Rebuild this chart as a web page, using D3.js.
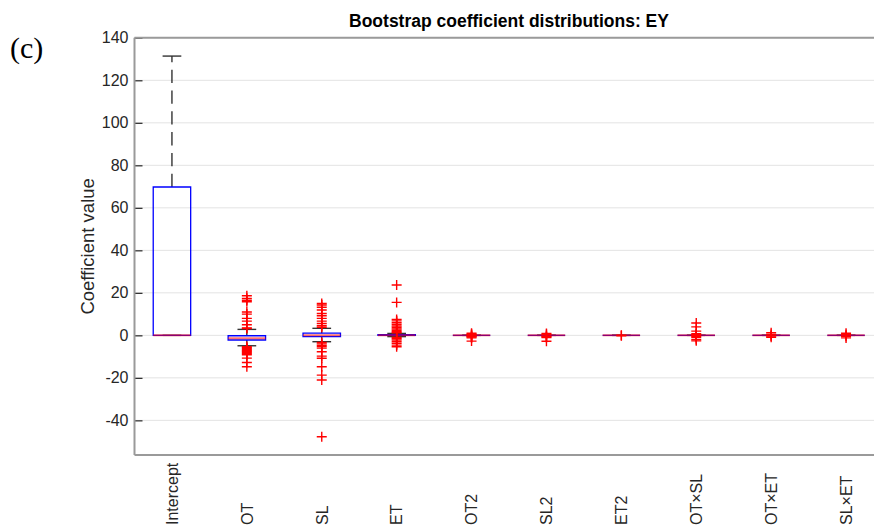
<!DOCTYPE html>
<html>
<head>
<meta charset="utf-8">
<script src="https://cdn.jsdelivr.net/npm/d3@7"></script>
<style>
  html, body { margin: 0; padding: 0; background: #fff; }
  svg { display: block; }
  text { font-family: Arial, "Liberation Sans", sans-serif; }
</style>
</head>
<body>
<svg id="chart" width="874" height="526"></svg>
<script>
// Bootstrap coefficient distributions for the EY model terms
const categories = ["Intercept", "OT", "SL", "ET", "OT2", "SL2", "ET2", "OT×SL", "OT×ET", "SL×ET"];
const q1          = [0,     -2.2, -0.6, 0.0, 0, 0, 0, 0, 0, 0];
const medians     = [0,     -1.4,  0.1, 0.1, 0, 0, 0, 0, 0, 0];
const q3          = [69.8,  -0.2,  1.0, 0.3, 0, 0, 0, 0, 0, 0];
const whiskerLow  = [0,     -4.9, -3.0, -0.6, 0, 0, 0, 0, 0, 0];
const whiskerHigh = [131.4,  2.8,  3.3, 0.9, 0, 0, 0, 0, 0, 0];
const outliers = [
  [],
  [18.6, 17.4, 16.5, 15.8, 11.0, 10.0, 8.0, 6.7, 5.0, 3.5, 3.2,
   -5.3, -5.8, -6.2, -6.7, -7.2, -7.6, -8.1, -8.6, -9.1, -10.7, -12.8, -14.8],
  [15.0, 14.3, 13.2, 11.9, 10.3, 9.2, 8.0, 6.7, 5.6, 4.5, 3.8,
   -3.4, -4.0, -4.7, -5.3, -6.0, -7.7, -9.8, -10.8, -14.8, -18.7, -21.0, -47.7],
  [23.7, 15.5, 7.5, 6.8, 6.0, 5.2, 4.4, 3.7, 3.0, 2.3, 1.7, 1.2,
   -1.0, -1.5, -2.2, -3.0, -3.8, -4.6, -5.4],
  [1.0, 0.5, 0.3, -0.3, -0.5, -0.8, -1.2, -2.7],
  [0.9, 0.4, -0.4, -0.7, -1.0, -2.8],
  [0.1, -0.2],
  [5.8, 4.0, 2.0, 0.8, 0.3, 0.0, -0.5, -1.0, -2.0, -2.6],
  [1.2, 0.4, -0.3, -0.9],
  [1.0, 0.3, -0.4, -1.2]
];
const yTicks = [-40, -20, 0, 20, 40, 60, 80, 100, 120, 140];

const svg = d3.select("#chart");
const plotLeft = 134.5, plotRight = 883.5, plotTop = 37.8, plotBottom = 455;

const x = d3.scaleLinear().domain([0.5, categories.length + 0.5]).range([plotLeft, plotRight]);
const y = d3.scaleLinear().domain([-56.3, 140]).range([plotBottom, plotTop]);

const boxHalf = 0.25, capHalf = 0.125;

// horizontal grid
svg.append("g")
  .selectAll("line").data(yTicks).join("line")
  .attr("x1", plotLeft).attr("x2", plotRight)
  .attr("y1", d => y(d)).attr("y2", d => y(d))
  .attr("stroke", "#e3e3e3").attr("stroke-width", 1);

// y axis with inward ticks, plain hyphen for negatives
const yAxis = svg.append("g")
  .attr("transform", `translate(${plotLeft},0)`)
  .call(d3.axisLeft(y).tickValues(yTicks).tickFormat(d => String(d))
    .tickSizeInner(-8).tickSizeOuter(0).tickPadding(6));
yAxis.select(".domain").remove();
yAxis.selectAll(".tick line").attr("stroke", "#262626").attr("stroke-width", 1.2);
yAxis.selectAll(".tick text")
  .attr("fill", "#262626").style("font-size", "16px")
  .style("font-family", "Arial, 'Liberation Sans', sans-serif");

// frame lines (left, bottom, top)
const frame = svg.append("g").attr("stroke", "#9a9a9a").attr("stroke-width", 2).attr("fill", "none");
frame.append("line").attr("x1", plotLeft).attr("x2", plotLeft).attr("y1", plotTop).attr("y2", plotBottom);
frame.append("line").attr("x1", plotLeft).attr("x2", plotRight).attr("y1", plotBottom).attr("y2", plotBottom);
frame.append("line").attr("x1", plotLeft).attr("x2", plotRight).attr("y1", plotTop).attr("y2", plotTop);

// x tick labels, rotated
svg.append("g")
  .selectAll("text").data(categories).join("text")
  .attr("transform", (d, i) => `translate(${x(i + 1)},525) rotate(-90)`)
  .attr("dy", "0.36em")
  .attr("text-anchor", "start")
  .attr("fill", "#262626")
  .style("font-size", "16px")
  .text(d => d);

const idx = d3.range(categories.length);
const boxes = svg.append("g");

// dashed whiskers from box edges to caps
boxes.selectAll("line.wh-up").data(idx).join("line")
  .attr("class", "wh-up")
  .attr("x1", i => x(i + 1)).attr("x2", i => x(i + 1))
  .attr("y1", i => y(q3[i])).attr("y2", i => y(whiskerHigh[i]))
  .attr("stroke", "#111").attr("stroke-width", 1.2).attr("stroke-dasharray", "13.3,7.5");
boxes.selectAll("line.wh-dn").data(idx).join("line")
  .attr("class", "wh-dn")
  .attr("x1", i => x(i + 1)).attr("x2", i => x(i + 1))
  .attr("y1", i => y(q1[i])).attr("y2", i => y(whiskerLow[i]))
  .attr("stroke", "#111").attr("stroke-width", 1.2).attr("stroke-dasharray", "13.3,7.5");

// whisker caps
boxes.selectAll("line.cap-up").data(idx).join("line")
  .attr("class", "cap-up")
  .attr("x1", i => x(i + 1 - capHalf)).attr("x2", i => x(i + 1 + capHalf))
  .attr("y1", i => y(whiskerHigh[i])).attr("y2", i => y(whiskerHigh[i]))
  .attr("stroke", "#333").attr("stroke-width", 1.4);
boxes.selectAll("line.cap-dn").data(idx).join("line")
  .attr("class", "cap-dn")
  .attr("x1", i => x(i + 1 - capHalf)).attr("x2", i => x(i + 1 + capHalf))
  .attr("y1", i => y(whiskerLow[i])).attr("y2", i => y(whiskerLow[i]))
  .attr("stroke", "#333").attr("stroke-width", 1.4);

// boxes (as paths so zero-height boxes still draw)
boxes.selectAll("path.box").data(idx).join("path")
  .attr("class", "box")
  .attr("d", i => {
    const x0 = x(i + 1 - boxHalf), x1 = x(i + 1 + boxHalf);
    return `M${x0},${y(q3[i])}H${x1}V${y(q1[i])}H${x0}Z`;
  })
  .attr("fill", "none").attr("stroke", "#0000ff").attr("stroke-width", 1.3);

// medians
boxes.selectAll("line.med").data(idx).join("line")
  .attr("class", "med")
  .attr("x1", i => x(i + 1 - boxHalf)).attr("x2", i => x(i + 1 + boxHalf))
  .attr("y1", i => y(medians[i])).attr("y2", i => y(medians[i]))
  .attr("stroke", "#ff0000").attr("stroke-opacity", 0.55).attr("stroke-width", 2);

// outliers as '+' markers
const pts = idx.flatMap(i => outliers[i].map(v => ({ i, v })));
const ms = 5;
svg.append("g")
  .selectAll("path").data(pts).join("path")
  .attr("d", d => {
    const cx = x(d.i + 1), cy = y(d.v);
    return `M${cx - ms},${cy}H${cx + ms}M${cx},${cy - ms}V${cy + ms}`;
  })
  .attr("stroke", "#ff0000").attr("stroke-width", 1.4).attr("fill", "none");

// title
svg.append("text")
  .attr("x", (plotLeft + plotRight) / 2).attr("y", 27)
  .attr("text-anchor", "middle")
  .style("font-size", "17.5px").style("font-weight", "bold")
  .attr("fill", "#000")
  .text("Bootstrap coefficient distributions: EY");

// y axis label
svg.append("text")
  .attr("transform", `translate(93.5,${(plotTop + plotBottom) / 2}) rotate(-90)`)
  .attr("text-anchor", "middle")
  .attr("fill", "#262626")
  .style("font-size", "18.5px")
  .text("Coefficient value");

// panel letter
svg.append("text")
  .attr("x", 10).attr("y", 58)
  .style("font-family", "'Liberation Serif', 'Times New Roman', serif")
  .style("font-size", "30px")
  .attr("fill", "#000")
  .text("(c)");
</script>
</body>
</html>
